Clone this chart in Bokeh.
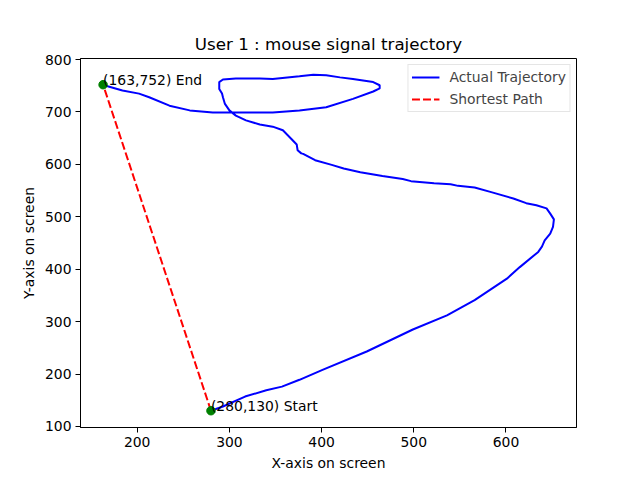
from bokeh.plotting import figure
from bokeh.models import Range1d, Legend, LegendItem
from bokeh.embed import file_html
from bokeh.resources import INLINE
from bokeh.core.properties import value

# Trajectory (screen coordinates)
traj_x = [280, 293, 317, 340, 357, 376, 401, 449, 499, 536, 566, 601, 615, 635, 639,
          642, 648, 651, 652, 648, 644, 633, 622, 608, 584, 566, 548, 540, 522, 497,
          488, 466, 442, 424, 411, 393, 380, 378, 374, 373, 367, 358, 347, 333, 318,
          307, 300, 295, 293, 292, 289, 289, 293, 307, 333, 347, 376, 391, 405, 420,
          434, 456, 463, 463, 456, 434, 405, 376, 347, 304, 282, 257, 235, 213, 202,
          184, 166, 163]
traj_y = [130, 138, 157, 169, 176, 189, 208, 243, 285, 312, 341, 382, 404, 433, 443,
          455, 468, 481, 495, 506, 516, 522, 526, 535, 547, 556, 559, 562, 564, 568,
          572, 578, 585, 592, 599, 608, 620, 621, 627, 638, 649, 665, 672, 676, 684,
          693, 703, 716, 728, 735, 744, 757, 762, 764, 764, 763, 768, 771, 770, 766,
          763, 757, 751, 745, 739, 725, 709, 703, 699, 699, 699, 703, 712, 728, 735,
          741, 750, 752]

start_pt = (280, 130)
end_pt = (163, 752)
path_x = [start_pt[0], end_pt[0]]
path_y = [start_pt[1], end_pt[1]]
labels = ["(280,130) Start", "(163,752) End"]

FONT = "DejaVu Sans"

p = figure(width=640, height=480, output_backend="svg", toolbar_location=None,
           x_range=Range1d(138.5, 676.5), y_range=Range1d(98, 802),
           min_border_left=80, min_border_right=64, min_border_top=58,
           min_border_bottom=53,
           title="User 1 : mouse signal trajectory")
p.background_fill_color = "white"
p.border_fill_color = "white"
p.outline_line_color = "black"
p.outline_line_width = 1
p.xgrid.visible = False
p.ygrid.visible = False

p.title.align = "center"
p.title.text_font = FONT
p.title.text_font_size = "16.7px"
p.title.text_font_style = "normal"
p.title.text_color = "black"
p.title.standoff = 9

for ax in (p.xaxis[0], p.yaxis[0]):
    ax.axis_line_color = "black"
    ax.major_tick_out = 5
    ax.major_tick_in = 0
    ax.minor_tick_line_color = None
    ax.major_label_text_font = FONT
    ax.major_label_text_font_size = "13.9px"
    ax.major_label_text_color = "black"
    ax.axis_label_text_font = FONT
    ax.axis_label_text_font_size = "13.9px"
    ax.axis_label_text_font_style = "normal"
    ax.axis_label_text_color = "black"

p.xaxis.axis_label = "X-axis on screen"
p.yaxis.axis_label = "Y-axis on screen"
p.xaxis.ticker = [200, 300, 400, 500, 600]
p.yaxis.ticker = [100, 200, 300, 400, 500, 600, 700, 800]
p.xaxis.major_label_standoff = 4
p.yaxis.major_label_standoff = 4

r1 = p.line(traj_x, traj_y, line_color="#0000ff", line_width=2)
r2 = p.line(path_x, path_y, line_color="#ff0000", line_width=2, line_dash="8 3")
p.scatter([start_pt[0], end_pt[0]], [start_pt[1], end_pt[1]], size=8.5,
          fill_color="#008000", line_color="#008000")
p.text([start_pt[0], end_pt[0]], [start_pt[1], end_pt[1]], text=labels,
       text_font=value(FONT), text_font_size="13.9px", text_color="black",
       text_align="left", text_baseline="bottom", y_offset=3)

legend = Legend(items=[LegendItem(label="Actual Trajectory", renderers=[r1]),
                       LegendItem(label="Shortest Path", renderers=[r2])],
                location="top_right")
legend.label_text_font = FONT
legend.label_text_font_size = "13.9px"
legend.border_line_color = "#cccccc"
legend.border_line_width = 1
legend.background_fill_alpha = 0.8
legend.margin = 6
legend.padding = 3
legend.spacing = 4
legend.glyph_width = 28
legend.glyph_height = 18
legend.label_height = 18
legend.label_standoff = 10
p.add_layout(legend, "center")

open("out.html", "w").write(file_html(p, INLINE))
